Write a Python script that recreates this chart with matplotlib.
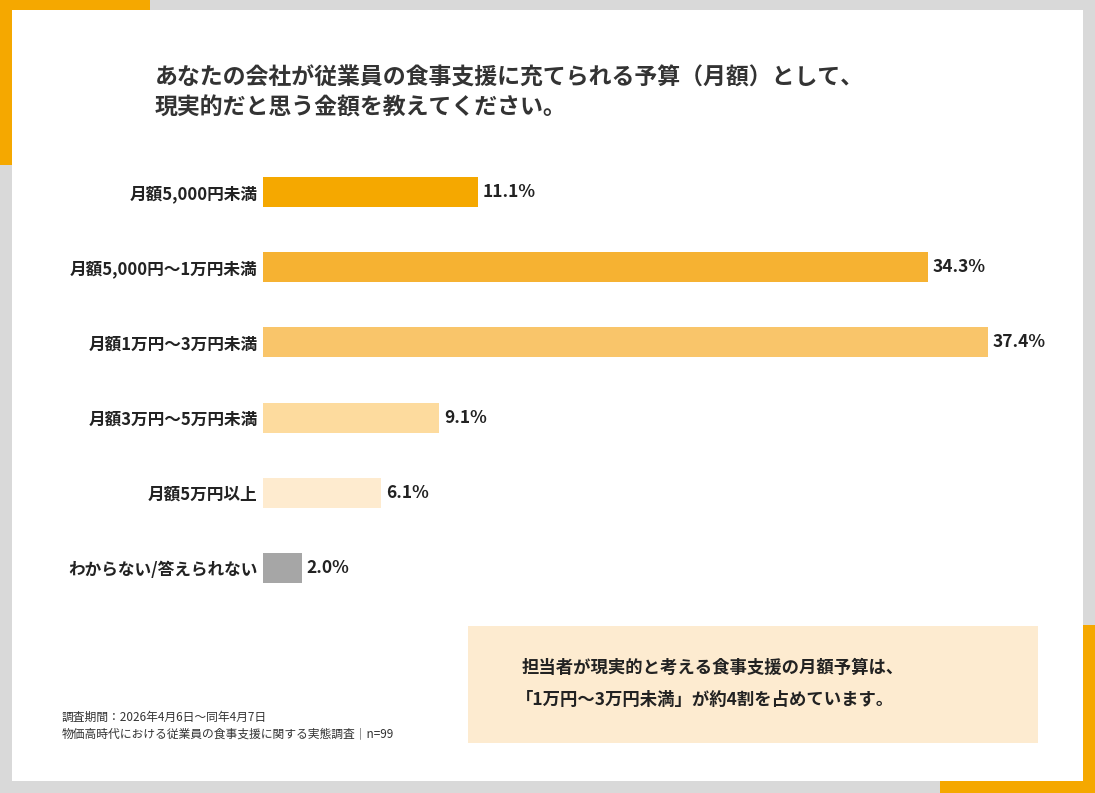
import matplotlib
matplotlib.use("Agg")
import matplotlib.pyplot as plt
from matplotlib.patches import Rectangle

plt.rcParams['font.family'] = ['Noto Sans CJK JP', 'DejaVu Sans']

categories = ["月額5,000円未満", "月額5,000円〜1万円未満", "月額1万円〜3万円未満",
              "月額3万円〜5万円未満", "月額5万円以上", "わからない/答えられない"]
values = [11.1, 34.3, 37.4, 9.1, 6.1, 2.0]
colors = ["#F5A800", "#F6B232", "#F9C56A", "#FDDB9E", "#FEEBCF", "#A6A6A6"]

W, H = 1095, 793
fig = plt.figure(figsize=(W/100, H/100), dpi=100)
fig.patch.set_facecolor("#D9D9D9")

def px(x, y, w, h, color, z=0):
    fig.patches.append(Rectangle((x/W, 1-(y+h)/H), w/W, h/H, transform=fig.transFigure,
                                 facecolor=color, edgecolor="none", zorder=z))

px(0, 0, 150, 10, "#F5A800")
px(0, 0, 12, 165, "#F5A800")
px(1083, 625, 12, 168, "#F5A800")
px(940, 781, 155, 12, "#F5A800")
px(12, 10, 1071, 771, "white", 1)
px(468, 626, 570, 117, "#FDEBD0", 2)

fig.text(155/W, 1-78/H, "あなたの会社が従業員の食事支援に充てられる予算（月額）として、",
         fontsize=16.5, fontweight='bold', color="#333333", va='center', zorder=5)
fig.text(155/W, 1-108/H, "現実的だと思う金額を教えてください。",
         fontsize=16.5, fontweight='bold', color="#333333", va='center', zorder=5)

y0, y1 = 154.4, 605.6
ax = fig.add_axes([263/W, 1-y1/H, (988-263)/W*40/37.4, (y1-y0)/H])
ax.set_zorder(3)
ax.patch.set_alpha(0)
ys = list(range(len(values)))
ax.barh(ys, values, color=colors, height=0.4)
ax.set_xlim(0, 40)
ax.set_ylim(len(values)-0.5, -0.5)
ax.set_yticks(ys)
ax.set_yticklabels(categories, fontsize=12, fontweight='bold', color="#222222")
ax.tick_params(length=0, pad=4)
ax.set_xticks([])
for s in ax.spines.values():
    s.set_visible(False)
for y, v in zip(ys, values):
    ax.text(v + 0.25, y, f"{v:.1f}%", va='center', ha='left', fontsize=12.5,
            fontweight='bold', color="#222222")

fig.text(522/W, 1-668/H, "担当者が現実的と考える食事支援の月額予算は、", fontsize=12.5,
         fontweight='bold', color="#222222", va='center', zorder=5)
fig.text(516/W, 1-700/H, "「1万円〜3万円未満」が約4割を占めています。", fontsize=12.5,
         fontweight='bold', color="#222222", va='center', zorder=5)

fig.text(62/W, 1-717/H, "調査期間：2026年4月6日〜同年4月7日", fontsize=8.5, color="#333333",
         va='center', zorder=5)
fig.text(62/W, 1-734/H, "物価高時代における従業員の食事支援に関する実態調査｜n=99", fontsize=8.5,
         color="#333333", va='center', zorder=5)

fig.savefig("out.png", dpi=100, facecolor=fig.get_facecolor())
